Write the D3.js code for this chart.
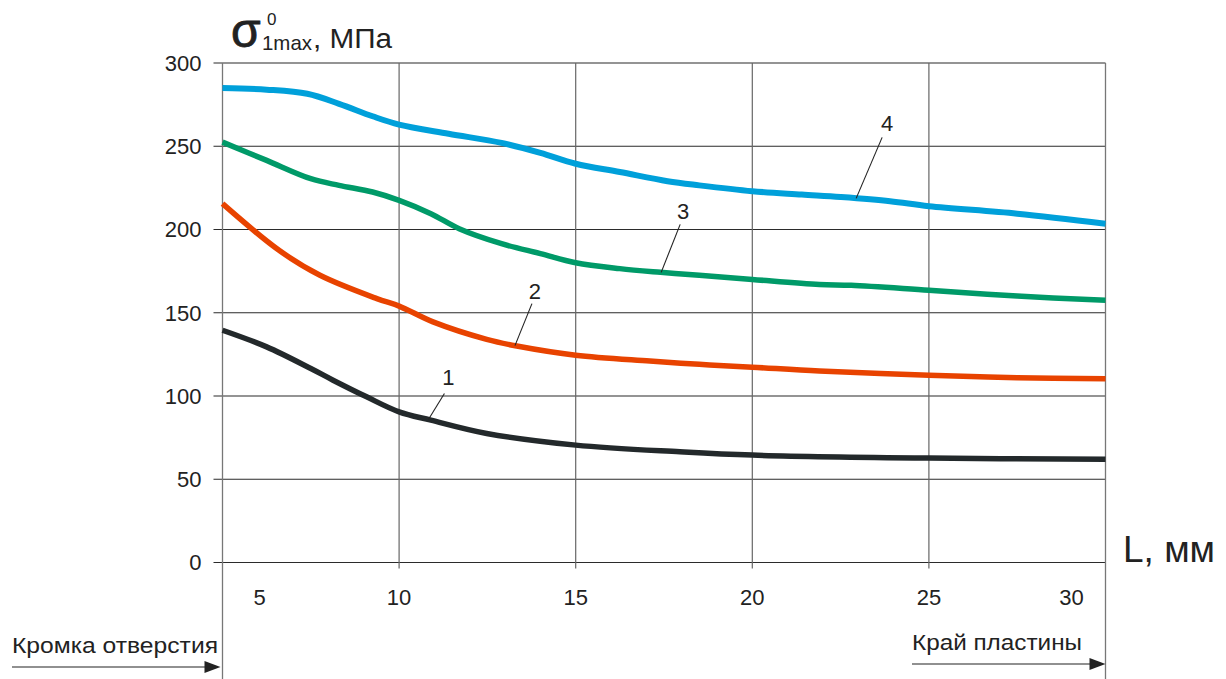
<!DOCTYPE html>
<html>
<head>
<meta charset="utf-8">
<script src="https://cdn.jsdelivr.net/npm/d3@7"></script>
<style>
  body { margin: 0; background: #fff; }
  text { font-family: "Liberation Sans", Arial, sans-serif; fill: #222; }
</style>
</head>
<body>
<svg id="chart" width="1226" height="679"></svg>
<script>
// Axis ticks
const xTicks = [5, 10, 15, 20, 25, 30];
const yTicks = [0, 50, 100, 150, 200, 250, 300];

// Curve 1
const curve1L = [5, 6.25, 7.5, 8.13, 9.08, 10, 10.9, 12.48, 15, 17.95, 20, 25, 30];
const curve1S = [139.5, 129.5, 116.5, 109.5, 99.5, 90.5, 85.5, 77.5, 70.5, 66.5, 64.5, 62.7, 62];
// Curve 2
const curve2L = [5, 6.6, 7.76, 9.37, 10, 10.96, 12.48, 13.33, 15, 17.1, 18.5, 20, 21.9, 25, 27.5, 30];
const curve2S = [215.5, 187.5, 172.5, 158.5, 154, 144.5, 134, 130, 124.5, 121, 119, 117.3, 115, 112.5, 111, 110.3];
// Curve 3
const curve3L = [5, 6.25, 7.5, 8.3, 9.25, 10, 10.9, 11.7, 12.9, 14, 15, 16.25, 17.4, 18.5, 20, 21.9, 22.8, 25, 27.5, 30];
const curve3S = [252.5, 241.5, 230.5, 226.5, 222.5, 217.5, 209.5, 200.5, 191.5, 185.5, 180, 176.5, 174.3, 172.5, 170, 167, 166.5, 163.5, 160, 157.5];
// Curve 4
const curve4L = [5, 6.25, 7.4, 8.3, 9.25, 10, 11.4, 12.9, 14, 15, 16.25, 17.6, 18.5, 20, 21.4, 22.5, 23.9, 25, 27.5, 30];
const curve4S = [285, 284, 281.5, 275.5, 268, 263, 257.5, 252, 246, 239.5, 234.5, 229, 226.5, 223, 221, 219.5, 217, 214, 209.5, 203.5];

// Curve labels and the L position where each leader touches its curve
const curveNames = ["1", "2", "3", "4"];
const labelAtL = [10.83, 13.28, 17.42, 22.94];
const curveColors = ["#23292b", "#e84300", "#009a68", "#00a0da"];

const svg = d3.select("#chart");
const plotLeft = 222.5, plotRight = 1105.5, plotTop = 63, plotBottom = 562.5;

const x = d3.scaleLinear().domain([5, 30]).range([plotLeft, plotRight]);
const y = d3.scaleLinear().domain([0, 300]).range([plotBottom, plotTop]);

// Horizontal grid lines (extend a little to the left as ticks)
svg.append("g").selectAll("line").data(yTicks).join("line")
  .attr("x1", plotLeft - 9).attr("x2", plotRight)
  .attr("y1", d => y(d)).attr("y2", d => y(d))
  .attr("stroke", "#2b2b2b").attr("stroke-width", 1.2);

// Vertical grid lines (extend below the zero line as ticks)
svg.append("g").selectAll("line").data(xTicks.slice(1, -1)).join("line")
  .attr("x1", d => x(d)).attr("x2", d => x(d))
  .attr("y1", plotTop).attr("y2", plotBottom + 6)
  .attr("stroke", "#666").attr("stroke-width", 1.2);

// Left and right boundaries, running down to the bottom of the figure
[5, 30].forEach(v => {
  svg.append("line")
    .attr("x1", x(v)).attr("x2", x(v))
    .attr("y1", plotTop).attr("y2", 679)
    .attr("stroke", "#777").attr("stroke-width", 1.3);
});

// Y tick labels
svg.append("g").selectAll("text").data(yTicks).join("text")
  .attr("x", plotLeft - 21).attr("y", d => y(d))
  .attr("dy", "0.36em")
  .attr("text-anchor", "end")
  .attr("font-size", 22)
  .text(d => d);

// X tick labels (end labels sit inside the boundaries)
svg.append("g").selectAll("text").data(xTicks).join("text")
  .attr("x", (d, i) => x(d) + (i === 0 ? 37 : i === xTicks.length - 1 ? -34 : 0))
  .attr("y", 605)
  .attr("text-anchor", "middle")
  .attr("font-size", 22)
  .text(d => d);

// Curves
const series = [
  { L: curve1L, S: curve1S },
  { L: curve2L, S: curve2S },
  { L: curve3L, S: curve3S },
  { L: curve4L, S: curve4S }
];
const line = d3.line()
  .x(d => x(d[0])).y(d => y(d[1]))
  .curve(d3.curveCatmullRom.alpha(0.5));

series.forEach((s, i) => {
  const pts = s.L.map((l, k) => [l, s.S[k]]);
  svg.append("path")
    .attr("d", line(pts))
    .attr("fill", "none")
    .attr("stroke", curveColors[i])
    .attr("stroke-width", i === 3 ? 6 : 5.5)
    .attr("stroke-linejoin", "round");
});

// Curve numbers with leader lines
const leaderOffsets = [[16, -26], [17, -42], [19, -48], [26, -61]];
const textOffsets = [[20, -34], [20, -47], [22, -53], [31, -67]];
function valueAt(s, l) {
  const i = d3.bisectRight(s.L, l) - 1;
  const t = (l - s.L[i]) / (s.L[i + 1] - s.L[i]);
  return s.S[i] + t * (s.S[i + 1] - s.S[i]);
}
curveNames.forEach((name, i) => {
  const ax = x(labelAtL[i]);
  const ay = y(valueAt(series[i], labelAtL[i]));
  svg.append("line")
    .attr("x1", ax).attr("y1", ay)
    .attr("x2", ax + leaderOffsets[i][0]).attr("y2", ay + leaderOffsets[i][1])
    .attr("stroke", "#222").attr("stroke-width", 1.1);
  svg.append("text")
    .attr("x", ax + textOffsets[i][0]).attr("y", ay + textOffsets[i][1])
    .attr("text-anchor", "middle")
    .attr("font-size", 22)
    .text(name);
});

// Y axis title: σ⁰₁max, МПа
svg.append("text").attr("x", 231).attr("y", 47)
  .attr("font-size", 48).attr("stroke", "#222").attr("stroke-width", 0.8)
  .text("σ");
svg.append("text").attr("x", 267).attr("y", 25)
  .attr("font-size", 17).text("0");
svg.append("text").attr("x", 262).attr("y", 49.5)
  .attr("font-size", 21).attr("textLength", 50).attr("lengthAdjust", "spacingAndGlyphs")
  .text("1max");
svg.append("text").attr("x", 313).attr("y", 47.5)
  .attr("font-size", 27).attr("textLength", 79).attr("lengthAdjust", "spacingAndGlyphs")
  .text(", МПа");

// X axis title
svg.append("text").attr("x", 1123).attr("y", 562)
  .attr("font-size", 37).attr("textLength", 92).attr("lengthAdjust", "spacingAndGlyphs")
  .text("L, мм");

// Direction notes with arrows
function arrow(x1, x2, yy) {
  svg.append("line").attr("x1", x1).attr("x2", x2 - 12)
    .attr("y1", yy).attr("y2", yy)
    .attr("stroke", "#222").attr("stroke-width", 1.2);
  svg.append("path")
    .attr("d", `M${x2},${yy} L${x2 - 16},${yy - 6} L${x2 - 16},${yy + 6} Z`)
    .attr("fill", "#222");
}
svg.append("text").attr("x", 12).attr("y", 653)
  .attr("font-size", 22).attr("textLength", 206).attr("lengthAdjust", "spacingAndGlyphs")
  .text("Кромка отверстия");
arrow(12, x(5) - 2, 667);

svg.append("text").attr("x", 912).attr("y", 650)
  .attr("font-size", 22).attr("textLength", 170).attr("lengthAdjust", "spacingAndGlyphs")
  .text("Край пластины");
arrow(912, x(30), 664);
</script>
</body>
</html>
